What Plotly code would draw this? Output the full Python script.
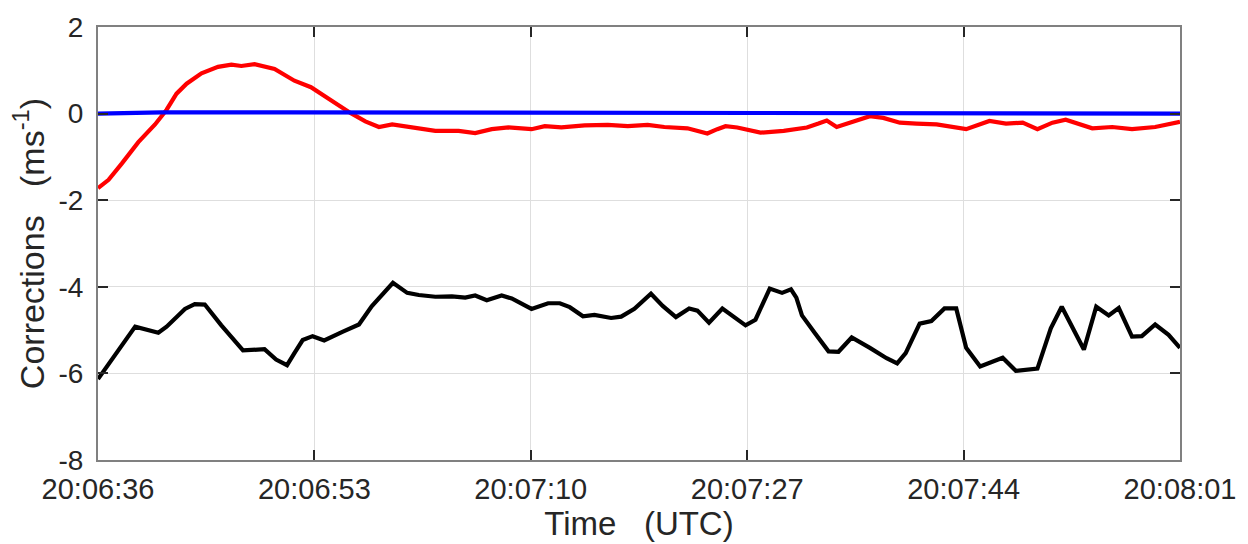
import pandas as pd
import plotly.graph_objects as go

# ---- data (seconds after 20:06:36 UTC, corrections in m/s) ----
start_time = "2017-01-01 20:06:36"

black_t = [0, 2.92, 4.74, 5.39, 6.83, 7.6, 8.39, 9.69, 11.39, 13.08,
           13.99, 14.85, 15.43, 16.08, 16.86, 17.77, 19.2, 20.5, 21.5, 23.17,
           24.29, 25.2, 26.5, 27.8, 28.85, 29.63, 30.54, 31.71, 32.5, 34.06,
           35.36, 36.28, 37.06, 38.1, 39.0, 40.31, 41.1, 42.14, 43.44, 44.36,
           45.4, 46.44, 47.09, 48.0, 49.05, 49.96, 50.87, 51.65, 52.17, 52.77,
           53.74, 54.44, 54.86, 55.3, 56.34, 57.39, 58.17, 59.21, 60.64, 61.95,
           62.78, 63.45, 64.55, 65.47, 66.5, 67.42, 68.2, 69.3, 71.07, 72.1,
           73.8, 74.85, 75.71, 77.45, 78.42, 79.4, 80.19, 81.23, 82.0, 83.05,
           84.1, 85]
black_v = [-6.13, -4.92, -5.06, -4.92, -4.51, -4.40, -4.41, -4.89, -5.47, -5.44,
           -5.68, -5.81, -5.53, -5.23, -5.14, -5.24, -5.04, -4.87, -4.45, -3.91,
           -4.14, -4.19, -4.23, -4.22, -4.25, -4.20, -4.31, -4.20, -4.27, -4.51,
           -4.38, -4.38, -4.47, -4.68, -4.65, -4.72, -4.69, -4.51, -4.16, -4.44,
           -4.70, -4.50, -4.55, -4.83, -4.50, -4.70, -4.89, -4.76, -4.40, -4.04,
           -4.14, -4.06, -4.25, -4.66, -5.08, -5.49, -5.50, -5.17, -5.41, -5.65,
           -5.77, -5.53, -4.85, -4.79, -4.50, -4.50, -5.41, -5.84, -5.64, -5.94,
           -5.89, -4.96, -4.46, -5.45, -4.46, -4.66, -4.49, -5.15, -5.14, -4.87,
           -5.11, -5.41]

red_t = [0, 0.83, 1.88, 3.17, 4.48, 5.39, 6.17, 6.96, 8.13, 9.43,
         10.48, 11.26, 12.3, 13.87, 15.43, 16.73, 18.3, 19.86, 21.0, 22.07,
         23.11, 24.42, 26.5, 28.33, 29.63, 30.93, 32.24, 34.06, 35.1, 36.4,
         38.23, 40.05, 41.62, 43.18, 44.49, 46.31, 47.87, 48.65, 49.3, 50.22,
         52.04, 53.87, 55.69, 56.6, 57.25, 58.03, 59.08, 60.64, 61.69, 62.99,
         64.29, 65.88, 68.2, 70.03, 71.33, 72.64, 73.8, 74.98, 76.02, 76.8,
         78.11, 79.67, 81.23, 83.05, 85]
red_v = [-1.72, -1.53, -1.15, -0.66, -0.25, 0.09, 0.46, 0.69, 0.93, 1.08,
         1.13, 1.10, 1.14, 1.03, 0.76, 0.61, 0.31, 0.01, -0.18, -0.31,
         -0.25, -0.31, -0.40, -0.40, -0.45, -0.36, -0.32, -0.36, -0.29, -0.32,
         -0.27, -0.26, -0.29, -0.26, -0.31, -0.34, -0.46, -0.36, -0.29, -0.32,
         -0.44, -0.40, -0.32, -0.23, -0.16, -0.31, -0.21, -0.06, -0.10, -0.21,
         -0.23, -0.25, -0.36, -0.17, -0.23, -0.21, -0.36, -0.21, -0.14, -0.21,
         -0.34, -0.31, -0.36, -0.31, -0.19]

blue_t = [0, 5, 15, 30, 45, 60, 75, 85]
blue_v = [0.0, 0.03, 0.03, 0.02, 0.01, 0.01, 0.0, 0.0]

x_tick_seconds = [0, 17, 34, 51, 68, 85]
x_tick_labels = ["20:06:36", "20:06:53", "20:07:10", "20:07:27", "20:07:44", "20:08:01"]
y_tick_values = [-8, -6, -4, -2, 0, 2]
y_tick_labels = ["-8", "-6", "-4", "-2", "0", "2"]

base = pd.Timestamp(start_time)


def to_time(seconds):
    return [base + pd.to_timedelta(s, unit="s") for s in seconds]


FONT = "Liberation Sans, Arial, Helvetica, sans-serif"
TXT = "#262626"
LW = 4.2

fig = go.Figure()
fig.add_trace(go.Scatter(x=to_time(red_t), y=red_v, mode="lines",
                         line=dict(color="#ff0000", width=LW), showlegend=False))
fig.add_trace(go.Scatter(x=to_time(blue_t), y=blue_v, mode="lines",
                         line=dict(color="#0000ff", width=LW), showlegend=False))
fig.add_trace(go.Scatter(x=to_time(black_t), y=black_v, mode="lines",
                         line=dict(color="#000000", width=LW), showlegend=False))

fig.update_layout(
    width=1248, height=544,
    margin=dict(l=98, r=63, t=17, b=84),
    paper_bgcolor="white", plot_bgcolor="white",
    font=dict(family=FONT, color=TXT, size=28),
)
fig.update_xaxes(
    type="date",
    range=[base, base + pd.to_timedelta(85, unit="s")],
    tickvals=to_time(x_tick_seconds), ticktext=x_tick_labels,
    ticks="inside", ticklen=10, tickwidth=1.5, tickcolor="#262626",
    showline=True, linecolor="#808080", linewidth=2, mirror="ticks",
    showgrid=True, gridcolor="#dedede", gridwidth=1,
    zeroline=False,
    tickfont=dict(size=29, color=TXT),
    ticklabelstandoff=2,
    title=dict(text="Time\u00a0\u00a0\u00a0(UTC)", font=dict(size=33, color=TXT), standoff=0),
)
fig.update_yaxes(
    range=[-8, 2],
    tickvals=y_tick_values, ticktext=y_tick_labels,
    ticks="inside", ticklen=10, tickwidth=1.5, tickcolor="#262626",
    showline=True, linecolor="#808080", linewidth=2, mirror="ticks",
    showgrid=True, gridcolor="#dedede", gridwidth=1,
    zeroline=False,
    tickfont=dict(size=28, color=TXT),
    ticklabelstandoff=7,
    title=dict(text="Corrections\u00a0\u00a0\u00a0(ms<sup>-1</sup>)", font=dict(size=34, color=TXT), standoff=4),
)

fig.write_html("out.html")
